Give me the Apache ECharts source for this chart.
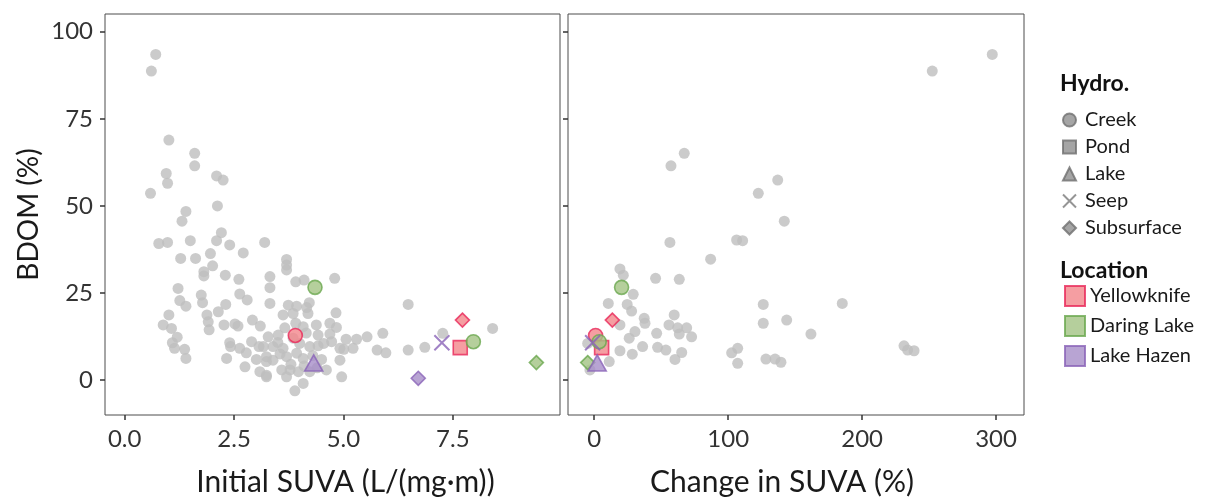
<!DOCTYPE html>
<html><head><meta charset="utf-8">
<script src="https://cdn.jsdelivr.net/npm/echarts@6/dist/echarts.min.js"></script>
<style>html,body{margin:0;padding:0;background:#fff}#c{width:1210px;height:502px}</style>
</head><body><div id="c"></div>
<script>
// all samples: [initial SUVA, BDOM]
const grayInitial = [
[0.71,93.5],[0.61,88.7],[1.01,68.9],[1.60,65.1],[1.60,61.5],[0.95,59.3],[0.98,56.5],[0.59,53.6],[2.10,58.6],[2.25,57.4],[2.12,50.0],[1.40,48.4],[1.31,45.6],[0.78,39.2],[0.98,39.5],[1.50,40.0],[2.10,40.0],[2.21,42.3],[2.40,38.8],[3.20,39.5],
[2.71,36.5],[1.96,36.3],[1.28,34.9],[1.62,34.9],[2.01,32.8],[1.81,31.1],[1.81,29.9],[2.30,30.1],[2.61,28.9],[3.32,29.7],[1.22,26.3],[1.75,24.4],[2.63,24.7],[2.80,23.0],[1.26,22.8],[1.40,21.2],[1.78,22.2],[2.31,21.7],[2.14,19.6],[1.01,18.7],[1.88,18.7],[1.91,16.7],[1.93,14.4],[0.88,15.8],[1.07,14.8],[2.27,15.8],[2.52,16.1],[2.59,15.5],[2.92,17.2],[3.10,15.5],[3.28,12.4],[1.20,12.3],[1.09,10.7],[1.14,9.1],[1.37,8.8],[1.40,6.2],[2.40,10.7],[2.42,9.6],[2.63,9.1],[2.78,7.8],[2.90,11.0],[3.07,9.6],[3.01,5.9],[2.33,6.2],[2.75,3.8],[3.09,2.4],[3.24,0.9],[3.24,5.3],
[3.70,34.6],[3.70,33.0],[3.70,31.6],[3.32,26.5],[3.91,28.2],[4.10,28.7],[4.80,29.2],[3.32,22.0],[3.74,21.5],[3.93,21.2],[4.22,22.2],[4.16,20.8],[3.62,18.7],[3.85,19.1],[4.19,19.1],[4.83,19.3],[3.66,15.0],[3.91,16.3],[4.08,15.3],[4.38,15.8],[4.69,16.3],[4.84,15.1],[3.51,12.9],[4.42,12.9],[4.69,13.2],[5.06,11.7],[5.30,11.7],[5.54,12.4],[5.90,13.4],[5.77,8.6],[5.97,7.8],[3.17,9.6],[3.39,9.6],[3.62,9.1],[4.23,9.6],[4.42,9.8],[4.73,11.0],[4.92,9.1],[5.01,8.8],[5.22,9.1],[3.24,6.7],[3.39,5.7],[3.70,6.7],[3.93,7.7],[4.08,6.2],[4.50,5.9],[4.61,2.9],[4.92,5.7],[3.59,2.9],[3.78,2.9],[3.97,2.4],[4.23,2.4],[3.24,1.4],[3.70,0.9],[4.96,0.9],[4.08,-1.0],[3.89,-3.1],
[3.85,12.0],[4.00,10.5],[4.15,13.5],[3.55,7.5],[4.30,7.0],[3.80,4.5],[4.40,3.5],[3.50,10.8],[4.55,10.5],[4.10,4.0],
[6.48,21.7],[6.48,8.6],[6.86,9.4],[7.27,13.4],[8.41,14.8]
];
// samples with a SUVA change: [change in SUVA, BDOM]
const grayChange = [
[297.2,93.5],[252.4,88.7],[67.2,65.1],[57.3,61.5],[137.0,57.4],[122.5,53.6],[141.9,45.6],[56.5,39.5],[106.3,40.2],[110.8,40.0],[86.9,34.7],[19.2,31.9],[21.7,30.1],[45.8,29.2],[63.5,28.9],[29.1,24.6],[10.5,22.0],[24.6,21.7],[27.9,19.8],[37.3,17.7],[37.9,16.3],[19.2,15.8],[30.4,13.9],[26.1,12.0],[46.6,13.4],[59.7,18.7],[55.8,15.8],[62.3,15.0],[69.0,15.0],[63.5,13.2],[72.7,12.4],[36.1,9.6],[47.3,9.4],[53.5,8.6],[65.3,7.9],[60.3,5.9],[19.2,8.4],[28.4,7.4],[11.2,5.3],[-3.2,2.9],[-4.9,10.5],[126.2,21.7],[126.2,16.3],[143.7,17.2],[102.6,7.8],[107.1,9.1],[107.1,4.8],[128.2,6.0],[135.0,6.0],[139.4,5.1],[185.2,22.0],[161.8,13.2],[231.3,9.8],[234.0,8.6],[238.8,8.4]
];
const hydroTypes = ['Creek','Pond','Lake','Seep','Subsurface'];
const locations = ['Yellowknife','Daring Lake','Lake Hazen'];
// highlighted samples per location: [hydro, initial SUVA, change in SUVA (null = none), BDOM]
const yellowknife = [['Creek',3.90,1.0,12.8],['Pond',7.67,5.5,9.3],['Subsurface',7.72,13.5,17.2]];
const daringLake = [['Creek',4.35,20.4,26.6],['Creek',7.97,3.7,11.0],['Subsurface',9.41,-4.9,5.0]];
const lakeHazen = [['Lake',4.32,2.2,4.9],['Seep',7.25,-1.2,10.7],['Subsurface',6.71,null,0.5]];
const xTicksLeft = [0, 2.5, 5, 7.5];
const xTicksRight = [0, 100, 200, 300];
const yTicks = [0, 25, 50, 75, 100];

const locData = [yellowknife, daringLake, lakeHazen];
const fills = ['#F3868B', '#A3C383', '#A68DC8'];
const strokes = ['#E8285A', '#6AA84F', '#8A63B8'];
const xPath = 'path://M0,0L10,10M10,0L0,10';
const sqPath = 'path://M0,0L10,0L10,10L0,10Z';
const symbolOf = {Creek:'circle', Pond:'rect', Lake:'triangle', Seep:xPath, Subsurface:'diamond'};
const legendIconOf = {Creek:'circle', Pond:sqPath, Lake:'triangle', Seep:xPath, Subsurface:'diamond'};
const sizeOf = {Creek:14, Pond:14, Lake:[18,16], Seep:15, Subsurface:14};
const FONT = 'Lato';

const gridTop = 14, gridH = 401;
const grids = [
  {left:105, top:gridTop, width:455, height:gridH, show:true, borderColor:'#4d4d4d', borderWidth:1, backgroundColor:'#fff'},
  {left:568, top:gridTop, width:456, height:gridH, show:true, borderColor:'#4d4d4d', borderWidth:1, backgroundColor:'#fff'}
];
function xAxis(idx, min, max, ticks, name, fmt, pad) {
  return {type:'value', gridIndex:idx, min:min, max:max,
    name:name, nameLocation:'middle', nameGap:52,
    nameTextStyle:{fontFamily:FONT, fontSize:30, color:'#1a1a1a', padding:pad},
    axisLine:{show:false, onZero:false}, splitLine:{show:false},
    axisTick:{show:true, length:5, lineStyle:{color:'#333', width:1.5}, customValues:ticks},
    axisLabel:{fontFamily:FONT, fontSize:24, color:'#333', margin:12, customValues:ticks, formatter:fmt}};
}
function yAxis(idx, showLabels) {
  return {type:'value', gridIndex:idx, min:-10.05, max:105.1,
    name: showLabels ? 'BDOM (%)' : '', nameLocation:'middle', nameGap:62,
    nameTextStyle:{fontFamily:FONT, fontSize:28, color:'#1a1a1a'},
    axisLine:{show:false, onZero:false}, splitLine:{show:false},
    axisTick:{show:true, length:5, lineStyle:{color:'#333', width:1.5}, customValues:yTicks},
    axisLabel:{show:showLabels, fontFamily:FONT, fontSize:24, color:'#333', margin:12, customValues:yTicks}};
}
const series = [];
series.push({type:'scatter', name:'all-initial', xAxisIndex:0, yAxisIndex:0, data:grayInitial,
  symbol:'circle', symbolSize:11, itemStyle:{color:'#BEBEBE'}, z:2, silent:true});
series.push({type:'scatter', name:'all-change', xAxisIndex:1, yAxisIndex:1, data:grayChange,
  symbol:'circle', symbolSize:11, itemStyle:{color:'#BEBEBE'}, z:2, silent:true});
// hydro legend dummies
hydroTypes.forEach(h => {
  series.push({type:'scatter', name:h, xAxisIndex:0, yAxisIndex:0, data:[], symbol:symbolOf[h],
    itemStyle: h==='Seep' ? {color:'rgba(0,0,0,0)', borderColor:'#7a7a7a', borderWidth:2.2}
                          : {color:'#8f8f8f', borderColor:'#6f6f6f', borderWidth:1}});
});
locations.forEach((loc, i) => {
  const rows = locData[i];
  const mk = (r, x) => ({value:[x, r[3]], symbol:symbolOf[r[0]], symbolSize:sizeOf[r[0]],
    itemStyle: r[0]==='Seep' ? {color:'rgba(0,0,0,0)', borderColor:strokes[i], borderWidth:2}
                             : {color:fills[i], borderColor:strokes[i], borderWidth:1.6}});
  series.push({type:'scatter', name:loc, xAxisIndex:0, yAxisIndex:0, z:5,
    itemStyle:{color:fills[i], borderColor:strokes[i], borderWidth:1.6},
    data: rows.map(r => mk(r, r[1]))});
  series.push({type:'scatter', name:loc, xAxisIndex:1, yAxisIndex:1, z:5,
    itemStyle:{color:fills[i], borderColor:strokes[i], borderWidth:1.6},
    data: rows.filter(r => r[2] !== null).map(r => mk(r, r[2]))});
});

const option = {
  animation:false,
  backgroundColor:'#fff',
  title:[
    {text:'Hydro.', left:1055, top:67, textStyle:{fontFamily:FONT, fontSize:23, fontWeight:'bold', color:'#111'}},
    {text:'Location', left:1055, top:254, textStyle:{fontFamily:FONT, fontSize:23, fontWeight:'bold', color:'#111'}}
  ],
  legend:[
    {orient:'vertical', left:1062, top:110, padding:0, itemWidth:13, itemHeight:13, itemGap:7,
     textStyle:{fontFamily:FONT, fontSize:20, color:'#1a1a1a', lineHeight:19, padding:[0,0,0,4]},
     data: hydroTypes.map(h => ({name:h, icon:legendIconOf[h]})), selectedMode:false},
    {orient:'vertical', left:1064, top:285, padding:0, itemWidth:20, itemHeight:20, itemGap:8,
     textStyle:{fontFamily:FONT, fontSize:20, color:'#1a1a1a', lineHeight:20},
     data: locations.map(l => ({name:l, icon:'rect'})), selectedMode:false}
  ],
  grid: grids,
  xAxis:[
    xAxis(0, -0.45, 9.95, xTicksLeft, 'Initial SUVA (L/(mg\u00b7m))', v => v.toFixed(1), [0,0,0,26]),
    xAxis(1, -19.6, 320.9, xTicksRight, 'Change in SUVA (%)', v => String(v), [0,28,0,0])
  ],
  yAxis:[yAxis(0, true), yAxis(1, false)],
  series: series
};
const chart = echarts.init(document.getElementById('c'), null, {renderer:'canvas'});
chart.setOption(option);
</script></body></html>
